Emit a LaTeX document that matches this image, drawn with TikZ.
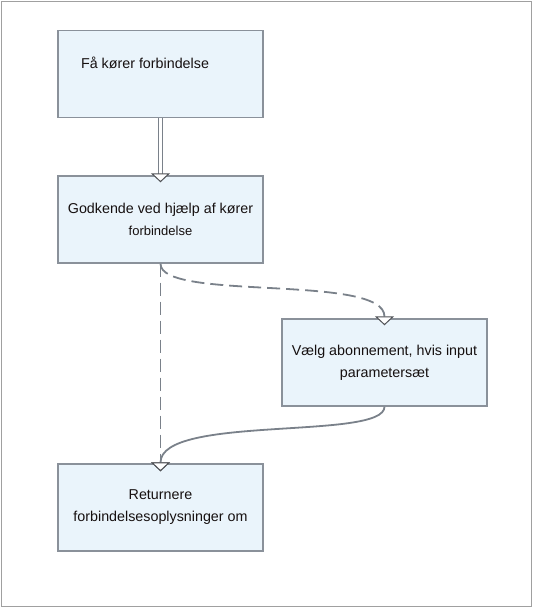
\documentclass[tikz,border=0pt]{standalone}
\usepackage{fontspec}
\setmainfont{Liberation Sans}
\usetikzlibrary{arrows.meta}
\definecolor{FlowBoxFill}{RGB}{234,244,251}
\definecolor{FlowBoxLine}{RGB}{138,145,154}
\definecolor{FlowLink}{RGB}{122,129,138}
\definecolor{FlowTip}{RGB}{80,82,86}
\definecolor{FlowFrame}{RGB}{160,160,160}
\definecolor{FlowText}{RGB}{22,16,16}
\begin{document}
\begin{tikzpicture}[x=1pt,y=-1pt,blk/.style={rectangle,draw=FlowBoxLine,line width=1.4pt,fill=FlowBoxFill,minimum width=205pt,minimum height=87pt,inner sep=0pt,align=center,text=FlowText,font=\fontsize{14.3}{22}\selectfont},lnk/.style={draw=FlowLink,line width=1.8pt,-{Triangle[width=19pt,length=9pt,fill=white,color=FlowTip,line width=1pt]}}]
\useasboundingbox (0,0) rectangle (533,608);
\draw[FlowFrame,line width=1pt] (1,1) rectangle (531.5,606.5);
   \node[blk](get) at(160.5,74) {Få kører forbindelse\hspace*{31pt}\\\mbox{}};
   \node[blk](godk) at(160.5,219.5) {Godkende ved hjælp af kører\\{\fontsize{13}{22}\selectfont forbindelse}};
   \node[blk](vaelg) at(384.5,362.5) {Vælg abonnement, hvis input\\parametersæt};
   \node[blk](ret) at(160.5,507.5) {Returnere\\forbindelsesoplysninger om};
\draw[lnk,line width=1.4pt,double=white,double distance=2.5pt] (get.south) -- ([yshift=-7pt]godk.north);
\draw[lnk,dash pattern=on 13pt off 6pt] (godk.south) -- ([yshift=-8pt]ret.north);
\draw[lnk,dash pattern=on 13pt off 6pt] (godk.south) .. controls +(0,38) and +(0,-52) .. ([yshift=-7pt]vaelg.north);
\draw[lnk] (vaelg.south) .. controls +(0,34) and +(0,-57) .. ([yshift=-8pt]ret.north);
\end{tikzpicture}
\end{document}
